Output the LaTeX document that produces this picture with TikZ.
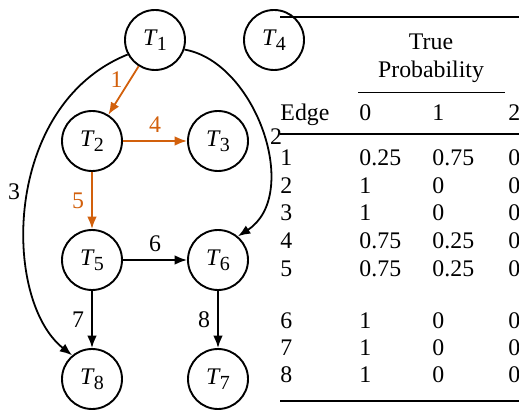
\documentclass[tikz,border=0pt]{standalone}
\usepackage{fontspec}
\setmainfont{Liberation Serif}
\usepackage{tikz}
\usetikzlibrary{arrows.meta,positioning}
\definecolor{ink}{HTML}{000000}
\definecolor{hotorange}{HTML}{D2600C}
\tikzset{
  task/.style={draw=ink,circle,line width=0.8pt,
               minimum size=25.2pt,inner sep=0pt},
  link/.style={-{Latex[length=5.2pt,width=4pt]},line width=0.75pt,draw=ink},
  hotlink/.style={link,draw=hotorange,fill=hotorange},
  linklab/.style={text=ink,inner sep=3pt},
  hotlab/.style={linklab,text=hotorange},
  cell/.style={anchor=base west,inner sep=0pt,text=ink},
  thickrule/.style={draw=ink,line width=0.85pt},
  thinrule/.style={draw=ink,line width=0.5pt},
  cmidrule/.style={draw=ink,line width=0.35pt}
}
\newcommand{\tlab}[1]{\textit{T}\kern-0.4pt\raisebox{-0.45ex}{\fontsize{8.4}{9}\selectfont #1}}

\begin{document}
\begin{tikzpicture}[x=0.42pt,y=-0.42pt,>=Latex]
  \useasboundingbox (0,0) rectangle (519,411);
  \clip (0,0) rectangle (519,411);
  % tasks
  \node[task] (t1) at (155,40)  {\tlab{1}};
  \node[task] (t2) at (92,141)  {\tlab{2}};
  \node[task] (t3) at (218,141) {\tlab{3}};
  \node[task] (t4) at (274,40)  {\tlab{4}};
  \node[task] (t5) at (92,260)  {\tlab{5}};
  \node[task] (t6) at (218,260) {\tlab{6}};
  \node[task] (t8) at (92,379)  {\tlab{8}};
  \node[task] (t7) at (218,379) {\tlab{7}};
  % edges
  \draw[hotlink] (t1) -- node[hotlab,pos=0.27,left] {1} (t2);
  \draw[hotlink] (t2) -- node[hotlab,above] {4} (t3);
  \draw[hotlink] (t2) -- node[hotlab,left] {5} (t5);
  \draw[link] (t5) -- node[linklab,above] {6} (t6);
  \draw[link] (t5) -- node[linklab,left] {7} (t8);
  \draw[link] (t6) -- node[linklab,left] {8} (t7);
  \draw[link] (t1.208) .. controls (2,105) and (2,300) .. node[linklab,pos=0.47,left] {3} (t8.130);
  \draw[link] (t1.342) .. controls (256,62) and (302,195) .. node[linklab,pos=0.5,right,yshift=-2pt] {2} (t6.50);
  % table
  \draw[thickrule] (280,17) -- (540,17);
  \node[cell,anchor=base] (true) at (431,50) {True};
  \node[cell,anchor=base] (prob) at (431,78) {Probability};
  \draw[cmidrule] (358,92) -- (505,92);
  \node[cell] (edgehd) at (280,121) {Edge};
  \node[cell] (p0) at (359,121) {0};
  \node[cell] (p1) at (432,121) {1};
  \node[cell] (p2) at (508,121) {2};
  \draw[thinrule] (280,134) -- (540,134);
  \foreach \e/\a/\b/\c/\y in {1/0.25/0.75/0/166, 2/1/0/0/193.5, 3/1/0/0/221,
      4/0.75/0.25/0/248.5, 5/0.75/0.25/0/276, 6/1/0/0/328, 7/1/0/0/355, 8/1/0/0/382} {
    \node[cell] (e\e) at (280,\y) {\e};
    \node[cell] (a\e) at (359,\y) {\a};
    \node[cell] (b\e) at (432,\y) {\b};
    \node[cell] (c\e) at (508,\y) {\c};
  }
  \draw[thickrule] (280,401) -- (540,401);
\end{tikzpicture}
\end{document}
